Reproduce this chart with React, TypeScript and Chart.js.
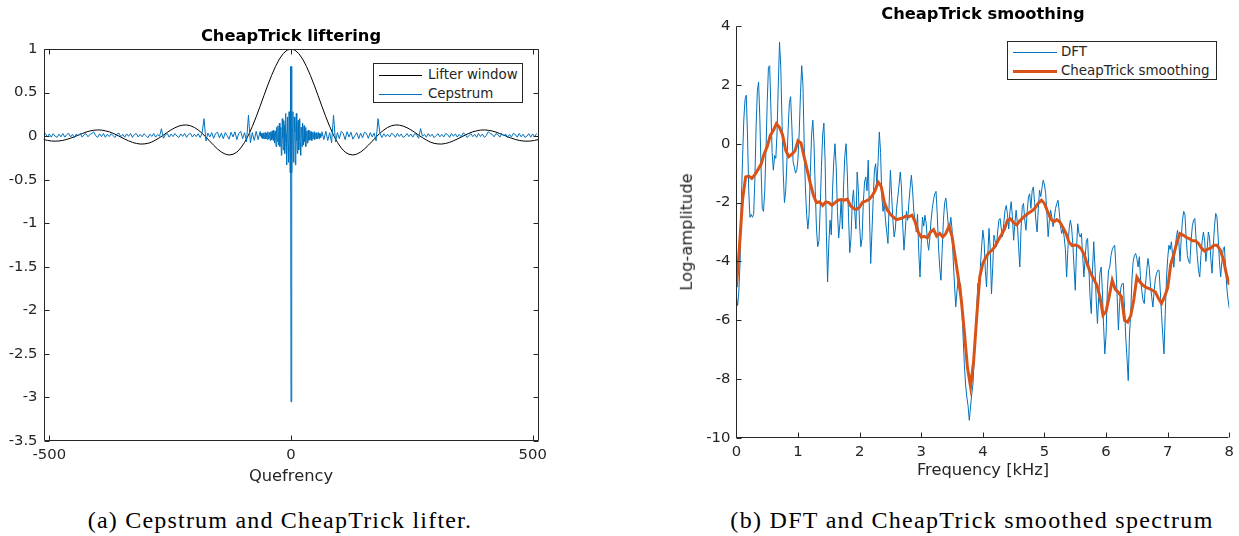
import { useEffect, useRef } from "react";
import { Chart, registerables } from "chart.js";

Chart.register(...registerables);

const SANS = '"DejaVu Sans", sans-serif';
const SERIF = '"Liberation Serif", serif';
const AXIS_COLOR = "#262626";
const BLUE = "#0072BD";
const ORANGE = "#D95319";

// ---- (a) lifter window, one value every 8 quefrency bins, -512 .. 512
const lifterStart = -512;
const lifterStep = 8;
const lifterWindow = [
  -0.039, -0.049, -0.056, -0.058, -0.056, -0.049, -0.038, -0.024, -0.007, 0.011,
  0.029, 0.046, 0.059, 0.067, 0.071, 0.069, 0.061, 0.049, 0.032, 0.011,
  -0.011, -0.034, -0.054, -0.072, -0.084, -0.091, -0.09, -0.083, -0.068, -0.045,
  -0.018, 0.011, 0.043, 0.072, 0.096, 0.115, 0.126, 0.128, 0.119, 0.1,
  0.07, 0.033, -0.011, -0.059, -0.105, -0.148, -0.183, -0.207, -0.217, -0.209,
  -0.184, -0.137, -0.072, 0.011, 0.111, 0.222, 0.342, 0.465, 0.586, 0.699,
  0.8, 0.885, 0.948, 0.987,
  1,
  0.987, 0.948, 0.885, 0.8, 0.699, 0.586, 0.465, 0.342, 0.222, 0.111,
  0.011, -0.072, -0.137, -0.184, -0.209, -0.217, -0.207, -0.183, -0.148, -0.105,
  -0.059, -0.011, 0.033, 0.07, 0.1, 0.119, 0.128, 0.126, 0.115, 0.096,
  0.072, 0.043, 0.011, -0.018, -0.045, -0.068, -0.083, -0.09, -0.091, -0.084,
  -0.072, -0.054, -0.034, -0.011, 0.011, 0.032, 0.049, 0.061, 0.069, 0.071,
  0.067, 0.059, 0.046, 0.029, 0.011, -0.007, -0.024, -0.038, -0.049, -0.056,
  -0.058, -0.056, -0.049, -0.039,
];

// ---- (a) cepstrum: every 4 bins away from zero, every bin for |q| < 64
const cepLeftStart = -512;
const cepLeft = [
  0.015, 0.03, -0.01, 0.025, -0.012, 0.028, 0.0, -0.015, 0.022, -0.008,
  0.03, -0.012, 0.018, 0.032, -0.01, 0.02, -0.018, 0.025, 0.002, 0.03,
  -0.012, 0.018, 0.028, -0.008, 0.02, 0.03, 0.05, 0.005, -0.015, 0.025,
  -0.005, 0.03, -0.014, 0.02, -0.006, 0.028, 0.004, -0.016, 0.024, 0.035,
  -0.008, 0.02, -0.012, 0.026, -0.002, 0.03, -0.015, 0.018, 0.03, -0.01,
  0.02, -0.008, 0.028, 0.006, -0.018, 0.022, -0.004, 0.03, -0.012, 0.02,
  -0.002, 0.085, -0.025, 0.015, 0.03, -0.012, 0.024, -0.006, 0.03, 0.0,
  -0.016, 0.025, -0.004, 0.03, -0.014, 0.02, 0.032, -0.01, 0.022, -0.006,
  0.028, -0.016, 0.03, 0.2, -0.055, 0.035, -0.01, 0.04, -0.025, 0.03,
  0.045, -0.02, 0.035, -0.03, 0.04, 0.005, -0.035, 0.045, -0.01, 0.05,
  -0.04, 0.03, 0.055, -0.03, 0.04, -0.065, 0.24, -0.075, 0.04, -0.05,
  0.055, -0.04, 0.05,
];
const cepCenterStart = -63;
const cepCenter = [
  0.0, 0.03, -0.02, 0.02, 0.03, -0.03, 0.01, 0.04, -0.03, 0.0,
  0.04, -0.03, 0.03, 0.02, -0.04, 0.05, 0.0, -0.03, 0.04, 0.02,
  -0.05, 0.05, 0.03, -0.04, 0.06, -0.02, -0.05, 0.07, 0.03, -0.08,
  0.06, 0.04, -0.12, 0.1, 0.02, -0.06, 0.12, -0.1, -0.04, 0.15,
  -0.12, 0.08, 0.1, -0.22, -0.08, 0.2, -0.02, -0.16, 0.18, 0.12,
  -0.2, -0.05, 0.26, 0.02, -0.33, 0.05, 0.22, -0.1, -0.3, 0.28,
  0.1, -0.42, 0.8,
  -3.05,
  0.8, -0.42, 0.1, 0.28, -0.3, -0.1, 0.22, 0.05, -0.33, 0.02,
  0.26, -0.05, -0.2, 0.12, 0.18, -0.16, -0.02, 0.2, -0.08, -0.22,
  0.1, 0.08, -0.12, 0.15, -0.04, -0.1, 0.12, -0.06, 0.02, 0.1,
  -0.12, 0.04, 0.06, -0.08, 0.03, 0.07, -0.05, -0.02, 0.06, -0.04,
  0.03, 0.05, -0.05, 0.02, 0.04, -0.03, 0.0, 0.05, -0.04, 0.02,
  0.03, -0.03, 0.04, 0.0, -0.03, 0.04, 0.01, -0.03, 0.03, 0.02,
  -0.02, 0.03, 0.0,
];
const cepRightStart = 64;
const cepRight = [
  0.05, -0.04, 0.055, -0.05, 0.04, -0.075, 0.24, -0.065, 0.04, -0.03,
  0.055, 0.03, -0.04, 0.05, -0.01, 0.045, -0.035, 0.005, 0.04, -0.03,
  0.035, -0.02, 0.045, 0.03, -0.025, 0.04, -0.01, 0.035, -0.055, 0.2,
  0.03, -0.016, 0.028, -0.006, 0.022, -0.01, 0.032, 0.02, -0.014, 0.03,
  -0.004, 0.025, -0.016, 0.0, 0.03, -0.006, 0.024, -0.012, 0.03, 0.015,
  -0.025, 0.085, -0.002, 0.02, -0.012, 0.03, -0.004, 0.022, -0.018, 0.006,
  0.028, -0.008, 0.02, -0.01, 0.03, 0.018, -0.015, 0.03, -0.002, 0.026,
  -0.012, 0.02, -0.008, 0.035, 0.024, -0.016, 0.004, 0.028, -0.006, 0.02,
  -0.014, 0.03, -0.005, 0.025, -0.015, 0.005, 0.05, 0.03, 0.02, -0.008,
  0.028, 0.018, -0.012, 0.03, 0.002, 0.025, -0.018, 0.02, -0.01, 0.032,
  0.018, -0.012, 0.03, -0.008, 0.022, -0.015, 0.0, 0.028, -0.012, 0.025,
  -0.01, 0.03,
];
const cepCoarseStep = 4;

// ---- (b) DFT log-amplitude, one value every 20 Hz from 0 to 8 kHz
const dftStepKHz = 0.02;
const dftLogAmp = [
  -5.2, -5.5, -5.0, -4.0, -2.0, -0.5, 0.8, 1.5, 1.65, 0.3,
  -1.6, -2.5, -2.4, -2.5, -2.4, -1.2, 0.6, 1.8, 2.1, 0.9,
  -0.8, -2.2, -2.3, -1.6, -0.2, 1.4, 2.6, 2.65, 1.2, -0.3,
  -0.9, -0.4, -0.5, 0.4, 2.0, 3.45, 2.6, 0.8, -1.0, -2.0,
  -1.6, -0.6, 0.5, 1.4, 1.6, 0.6, -0.6, -0.8, -1.0, -0.9,
  -0.5, 0.4, 1.7, 2.65, 2.0, 0.0, -1.5, -2.4, -2.9, -2.4,
  -1.0, 0.3, 0.8, 0.0, -1.6, -2.9, -3.5, -3.3, -2.2, -0.8,
  0.3, 0.7, -0.6, -3.0, -4.7, -3.4, -2.6, -3.1, -1.6, -0.6,
  0.0, -0.8, -2.3, -3.2, -2.7, -1.9, -2.9, -1.4, -0.4, 0.0,
  -1.0, -2.5, -3.7, -3.2, -2.0, -1.57, -2.3, -2.9, -0.96, -1.6,
  -2.8, -3.5, -3.2, -2.0, -1.3, -1.13, -1.6, -0.56, -2.4, -4.07,
  -3.0, -1.9, -0.9, -0.68, -1.4, -0.6, 0.4, -0.3, -1.8, -2.3,
  -2.0, -2.6, -3.0, -3.39, -2.0, -0.9, -1.8, -2.6, -3.17, -2.9,
  -2.2, -1.8, -1.4, -0.96, -1.5, -2.8, -3.62, -3.0, -2.3, -2.6,
  -2.0, -1.5, -1.07, -1.6, -2.3, -2.6, -3.0, -2.4, -3.7, -4.53,
  -3.4, -2.49, -2.8, -2.43, -2.7, -3.3, -3.62, -3.2, -2.6, -2.2,
  -1.9, -1.7, -1.62, -2.4, -3.5, -4.2, -4.64, -3.6, -2.6, -2.0,
  -1.85, -2.3, -2.8, -2.93, -2.5, -2.9, -4.0, -4.8, -5.55, -5.0,
  -4.64, -4.7, -4.8, -5.6, -6.57, -7.5, -8.2, -8.61, -8.9, -9.4,
  -8.95, -8.5, -8.16, -7.3, -6.57, -5.6, -4.75, -5.1, -4.2, -3.5,
  -2.94, -3.3, -4.3, -4.87, -3.8, -2.88, -3.6, -5.1, -4.2, -3.11,
  -3.3, -3.5, -3.0, -2.6, -2.54, -2.9, -3.16, -2.7, -2.26, -2.1,
  -2.4, -2.9, -2.3, -1.97, -2.5, -3.28, -2.7, -2.26, -2.7, -3.5,
  -4.19, -2.9, -2.14, -2.03, -2.6, -2.94, -2.3, -1.81, -1.7, -2.2,
  -1.6, -1.47, -2.0, -2.6, -3.0, -2.2, -1.58, -1.8, -1.5, -1.24,
  -1.4, -1.7, -2.4, -3.16, -2.6, -2.26, -2.5, -2.82, -2.5, -2.2,
  -2.03, -1.92, -2.3, -2.8, -3.05, -2.9, -3.17, -3.6, -4.53, -3.6,
  -2.9, -2.6, -2.83, -3.4, -4.2, -4.98, -3.6, -2.72, -3.05, -3.17,
  -3.05, -3.8, -4.53, -3.9, -3.3, -3.22, -4.2, -5.2, -5.77, -4.3,
  -3.33, -4.2, -5.3, -6.11, -5.2, -4.4, -4.19, -5.0, -6.2, -7.14,
  -6.5, -5.0, -4.3, -4.19, -3.8, -3.6, -3.5, -3.45, -4.2, -5.2,
  -6.33, -5.4, -4.9, -4.75, -4.75, -5.6, -6.6, -7.3, -8.05, -6.5,
  -5.77, -4.6, -4.0, -3.8, -3.73, -3.9, -4.19, -3.84, -4.6, -5.0,
  -5.32, -5.43, -4.8, -4.3, -3.9, -4.19, -4.8, -5.2, -5.55, -5.0,
  -4.6, -4.4, -4.3, -4.3, -5.0, -5.8, -6.5, -7.14, -5.8, -4.6,
  -3.9, -3.45, -3.6, -3.33, -3.8, -4.2, -3.6, -3.2, -2.94, -3.3,
  -4.0, -3.2, -2.6, -2.3, -2.4, -3.2, -3.8, -4.0, -4.07, -3.3,
  -2.8, -2.6, -2.54, -3.2, -3.8, -4.3, -4.53, -3.8, -3.3, -3.0,
  -3.3, -4.0, -3.6, -3.0, -3.2, -3.9, -4.4, -3.5, -2.8, -2.37,
  -2.5, -3.2, -4.0, -4.53, -4.0, -3.6, -3.5, -4.2, -4.9, -5.3,
  -5.6,
];

// ---- (b) CheapTrick smoothed log-amplitude, one value every 50 Hz
const smoothStepKHz = 0.05;
const cheapTrickLogAmp = [
  -4.87, -3.5, -1.9, -1.13, -1.1, -1.18, -1.05, -0.88, -0.7, -0.35,
  -0.1, 0.28, 0.45, 0.68, 0.55, 0.3, -0.22, -0.44, -0.36, -0.25,
  0.1, 0.02, -0.45, -0.9, -1.35, -1.75, -2.0, -1.97, -2.1, -1.98,
  -2.0, -2.09, -2.0, -1.92, -1.9, -1.92, -1.88, -2.1, -2.2, -2.24,
  -2.15, -1.98, -1.95, -1.9, -1.78, -1.6, -1.3, -1.45, -1.98, -2.25,
  -2.4, -2.5, -2.58, -2.55, -2.52, -2.46, -2.48, -2.43, -2.65, -3.0,
  -3.18, -3.15, -3.2, -3.0, -2.92, -3.14, -3.05, -3.17, -3.05, -2.8,
  -3.15, -3.85, -4.53, -5.3, -6.4, -7.6, -8.25, -7.4, -5.89, -4.53,
  -4.07, -3.85, -3.7, -3.62, -3.48, -3.28, -3.1, -2.9, -2.6, -2.55,
  -2.68, -2.76, -2.62, -2.52, -2.42, -2.35, -2.28, -2.18, -2.02, -1.92,
  -2.03, -2.3, -2.55, -2.66, -2.58, -2.66, -2.85, -3.05, -3.35, -3.46,
  -3.44, -3.48, -3.58, -3.8, -4.13, -4.4, -4.6, -4.8, -5.2, -5.83,
  -5.7, -5.2, -4.64, -4.95, -5.05, -5.2, -6.0, -6.06, -5.85, -5.3,
  -4.53, -4.7, -4.81, -4.88, -4.92, -4.98, -5.04, -5.25, -5.43, -5.2,
  -4.9, -4.1, -3.75, -3.35, -3.05, -3.1, -3.18, -3.22, -3.3, -3.3,
  -3.39, -3.55, -3.65, -3.58, -3.55, -3.45, -3.45, -3.6, -3.9, -4.4,
  -4.8,
];

// ---- axis ticks
const quefrencyTicks = [-500, 0, 500];
const cepstrumTicks = [-3.5, -3, -2.5, -2, -1.5, -1, -0.5, 0, 0.5, 1];
const frequencyTicks = [0, 1, 2, 3, 4, 5, 6, 7, 8];
const logAmpTicks = [-10, -8, -6, -4, -2, 0, 2, 4];

const lifterPoints = lifterWindow.map((y, i) => ({ x: lifterStart + i * lifterStep, y }));
const cepstrumPoints = [
  ...cepLeft.map((y, i) => ({ x: cepLeftStart + i * cepCoarseStep, y })),
  ...cepCenter.map((y, i) => ({ x: cepCenterStart + i, y })),
  ...cepRight.map((y, i) => ({ x: cepRightStart + i * cepCoarseStep, y })),
];
const dftPoints = dftLogAmp.map((y, i) => ({ x: +(i * dftStepKHz).toFixed(2), y }));
const smoothPoints = cheapTrickLogAmp.map((y, i) => ({ x: +(i * smoothStepKHz).toFixed(2), y }));

const TICK_FONT = 14.8;
const LABEL_FONT = 16.3;
const LEGEND_FONT = 13.4;
const CANVAS_H = 470;

// MATLAB-style axes: inward tick marks, optional closed box
function framePlugin(box: boolean, tickLen: number) {
  return {
    id: "frame",
    afterDraw(chart: any) {
      const { ctx, chartArea: a, scales } = chart;
      const L = Math.round(a.left) + 0.5;
      const R = Math.round(a.right) - 0.5;
      const T = Math.round(a.top) + 0.5;
      const B = Math.round(a.bottom) - 0.5;
      ctx.save();
      ctx.strokeStyle = AXIS_COLOR;
      ctx.lineWidth = 1;
      ctx.beginPath();
      ctx.moveTo(L, T);
      ctx.lineTo(L, B);
      ctx.lineTo(R, B);
      if (box) {
        ctx.lineTo(R, T);
        ctx.lineTo(L, T);
      }
      for (const t of scales.x.ticks) {
        const px = Math.round(scales.x.getPixelForValue(t.value)) + 0.5;
        ctx.moveTo(px, B);
        ctx.lineTo(px, B - tickLen);
        if (box) {
          ctx.moveTo(px, T);
          ctx.lineTo(px, T + tickLen);
        }
      }
      for (const t of scales.y.ticks) {
        const py = Math.round(scales.y.getPixelForValue(t.value)) + 0.5;
        ctx.moveTo(L, py);
        ctx.lineTo(L + tickLen, py);
        if (box) {
          ctx.moveTo(R, py);
          ctx.lineTo(R - tickLen, py);
        }
      }
      ctx.stroke();
      ctx.restore();
    },
  };
}

function linearAxis(min: number, max: number, ticks: number[], size: { width?: number; height?: number }, padding: number) {
  return {
    type: "linear" as const,
    min,
    max,
    afterBuildTicks: (s: any) => {
      s.ticks = ticks.map((v) => ({ value: v }));
    },
    afterFit: (s: any) => {
      if (size.width !== undefined) s.width = size.width;
      if (size.height !== undefined) s.height = size.height;
    },
    grid: { display: false, drawTicks: false },
    border: { display: false },
    ticks: {
      color: AXIS_COLOR,
      font: { family: SANS, size: TICK_FONT },
      padding,
      maxRotation: 0,
      autoSkip: false,
      callback: (v: any) => String(v),
    },
  };
}

const baseOptions = {
  responsive: false,
  animation: false as const,
  events: [] as any[],
  plugins: { legend: { display: false }, tooltip: { enabled: false }, title: { display: false } },
  elements: { line: { tension: 0 }, point: { radius: 0 } },
};

function Label(props: { x: number; y: number; text: string; style?: any; rotate?: number }) {
  const { x, y, text, style, rotate } = props;
  return (
    <div
      style={{
        position: "absolute",
        left: x,
        top: y,
        transform: `translate(-50%, -50%)${rotate ? ` rotate(${rotate}deg)` : ""}`,
        whiteSpace: "nowrap",
        lineHeight: 1,
        color: AXIS_COLOR,
        fontFamily: SANS,
        fontSize: LABEL_FONT,
        ...style,
      }}
    >
      {text}
    </div>
  );
}

function Legend(props: {
  left: number;
  top: number;
  width: number;
  height: number;
  rows: { text: string; color: string; width: number; y: number }[];
  lineX0: number;
  lineX1: number;
  textX: number;
}) {
  const { left, top, width, height, rows, lineX0, lineX1, textX } = props;
  return (
    <div
      style={{
        position: "absolute",
        left,
        top,
        width,
        height,
        boxSizing: "border-box",
        border: `1px solid ${AXIS_COLOR}`,
        background: "#fff",
      }}
    >
      {rows.map((r) => (
        <div key={r.text}>
          <div
            style={{
              position: "absolute",
              left: lineX0,
              width: lineX1 - lineX0,
              top: r.y - r.width / 2,
              height: r.width,
              background: r.color,
            }}
          />
          <div
            style={{
              position: "absolute",
              left: textX,
              top: r.y,
              transform: "translateY(-50%)",
              fontFamily: SANS,
              fontSize: LEGEND_FONT,
              lineHeight: 1,
              color: AXIS_COLOR,
              whiteSpace: "nowrap",
            }}
          >
            {r.text}
          </div>
        </div>
      ))}
    </div>
  );
}

export default function App() {
  const leftRef = useRef<HTMLCanvasElement>(null);
  const rightRef = useRef<HTMLCanvasElement>(null);

  useEffect(() => {
    const left = new Chart(leftRef.current!, {
      type: "line",
      data: {
        datasets: [
          { label: "Lifter window", data: lifterPoints, borderColor: "#000", borderWidth: 1, pointRadius: 0, order: 2 },
          { label: "Cepstrum", data: cepstrumPoints, borderColor: BLUE, borderWidth: 1, pointRadius: 0, order: 1 },
        ],
      },
      options: {
        ...baseOptions,
        layout: { padding: { top: 49, right: 21.5, bottom: 0, left: 0 } },
        scales: {
          x: linearAxis(-512, 512, quefrencyTicks, { height: CANVAS_H - 441 }, 5),
          y: linearAxis(-3.5, 1, cepstrumTicks, { width: 43.5 }, 6),
        },
      } as any,
      plugins: [framePlugin(true, 5)],
    });

    const right = new Chart(rightRef.current!, {
      type: "line",
      data: {
        datasets: [
          { label: "CheapTrick smoothing", data: smoothPoints, borderColor: ORANGE, borderWidth: 3, pointRadius: 0, order: 1 },
          { label: "DFT", data: dftPoints, borderColor: BLUE, borderWidth: 1, pointRadius: 0, order: 2 },
        ],
      },
      options: {
        ...baseOptions,
        layout: { padding: { top: 26, right: 9, bottom: 0, left: 0 } },
        scales: {
          x: linearAxis(0, 8, frequencyTicks, { height: CANVAS_H - 438 }, 5),
          y: linearAxis(-10, 4, logAmpTicks, { width: 96.4 }, 6),
        },
      } as any,
      plugins: [framePlugin(false, 5)],
    });

    return () => {
      left.destroy();
      right.destroy();
    };
  }, []);

  return (
    <div style={{ position: "absolute", left: 0, top: 0, width: 1239, height: 536, background: "#fff", overflow: "hidden" }}>
      <canvas ref={leftRef} width={560} height={CANVAS_H} style={{ position: "absolute", left: 0, top: 0, width: 560, height: CANVAS_H }} />
      <canvas ref={rightRef} width={599} height={CANVAS_H} style={{ position: "absolute", left: 640, top: 0, width: 599, height: CANVAS_H }} />

      <Label x={291} y={36} text="CheapTrick liftering" style={{ fontWeight: "bold", color: "#000" }} />
      <Label x={291} y={476} text="Quefrency" />
      <Legend
        left={373}
        top={63}
        width={150}
        height={40}
        lineX0={5}
        lineX1={48}
        textX={54}
        rows={[
          { text: "Lifter window", color: "#000", width: 1, y: 11 },
          { text: "Cepstrum", color: BLUE, width: 1, y: 30 },
        ]}
      />
      <Label x={280} y={520} text="(a) Cepstrum and CheapTrick lifter." style={{ fontFamily: SERIF, fontSize: 24, letterSpacing: 1.2, color: "#000" }} />

      <Label x={983} y={14} text="CheapTrick smoothing" style={{ fontWeight: "bold", color: "#000" }} />
      <Label x={983} y={470} text="Frequency [kHz]" />
      <Label x={687} y={232} text="Log-amplitude" rotate={-90} />
      <Legend
        left={1007}
        top={41}
        width={210}
        height={39}
        lineX0={5}
        lineX1={49}
        textX={53}
        rows={[
          { text: "DFT", color: BLUE, width: 1, y: 10 },
          { text: "CheapTrick smoothing", color: ORANGE, width: 3, y: 29 },
        ]}
      />
      <Label x={972} y={520} text="(b) DFT and CheapTrick smoothed spectrum" style={{ fontFamily: SERIF, fontSize: 24, letterSpacing: 1.3, color: "#000" }} />
    </div>
  );
}
